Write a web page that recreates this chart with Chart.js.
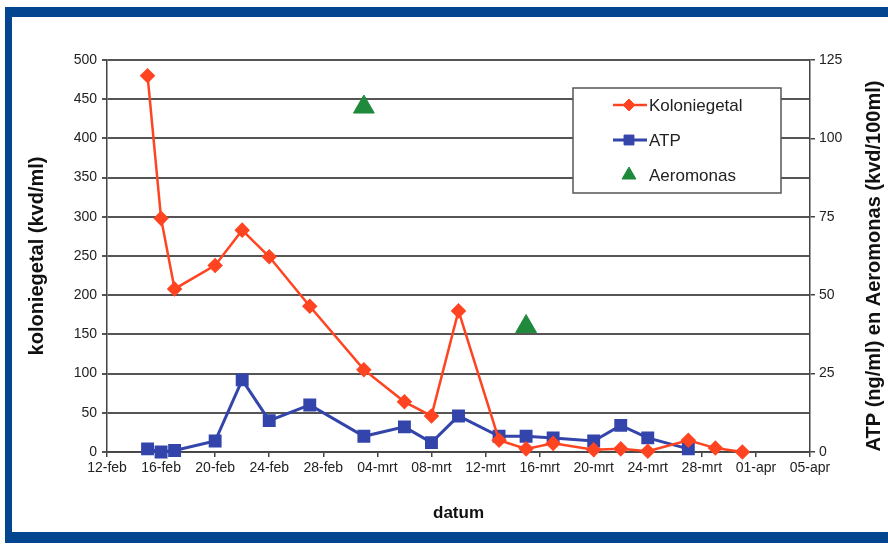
<!DOCTYPE html>
<html>
<head>
<meta charset="utf-8">
<script src="https://cdn.jsdelivr.net/npm/chart.js@4/dist/chart.umd.min.js"></script>
<style>
  html, body { margin: 0; padding: 0; background: #fff; }
  #wrap { width: 888px; height: 544px; position: relative; }
</style>
</head>
<body>
<div id="wrap"><canvas id="c" width="888" height="544"></canvas></div>
<script>
// x-axis tick labels, every 4 days from 12-feb
const tickLabels = ['12-feb', '16-feb', '20-feb', '24-feb', '28-feb', '04-mrt', '08-mrt',
                    '12-mrt', '16-mrt', '20-mrt', '24-mrt', '28-mrt', '01-apr', '05-apr'];

// Koloniegetal (kvd/ml), left axis
const koloniegetalDatum = ['15-feb', '16-feb', '17-feb', '20-feb', '22-feb', '24-feb', '27-feb',
                           '03-mrt', '06-mrt', '08-mrt', '10-mrt', '13-mrt', '15-mrt', '17-mrt',
                           '20-mrt', '22-mrt', '24-mrt', '27-mrt', '29-mrt', '31-mrt'];
const koloniegetal = [480, 298, 208, 238, 283, 249, 186, 105, 64, 46, 180, 15, 4, 11, 3, 4, 1, 15, 5, 0];

// ATP (ng/ml), right axis
const atpDatum = ['15-feb', '16-feb', '17-feb', '20-feb', '22-feb', '24-feb', '27-feb',
                  '03-mrt', '06-mrt', '08-mrt', '10-mrt', '13-mrt', '15-mrt', '17-mrt',
                  '20-mrt', '22-mrt', '24-mrt', '27-mrt'];
const atp = [1, 0, 0.5, 3.5, 23, 10, 15, 5, 8, 3, 11.5, 5, 5, 4.5, 3.5, 8.5, 4.5, 1];

// Aeromonas (kvd/100ml), right axis
const aeromonasDatum = ['03-mrt', '15-mrt'];
const aeromonas = [110, 40];

const maanden = { feb: 1, mrt: 2, apr: 3 };
const startDag = Date.UTC(2007, 1, 12);
function dag(s) {
  const [d, m] = s.split('-');
  return (Date.UTC(2007, maanden[m], +d) - startDag) / 86400000;
}
const punten = (data, waarden) => data.map((d, i) => ({ x: dag(d), y: waarden[i] }));

const RED = '#ff4422', BLUE = '#3344aa', GREEN = '#1f8a3c';
const FONT = "'Liberation Sans', Arial, sans-serif";
Chart.defaults.font.family = FONT;
Chart.defaults.color = '#222';

// Blue frame around the figure
const frame = {
  id: 'frame',
  beforeDraw(chart) {
    const ctx = chart.ctx;
    ctx.save();
    ctx.fillStyle = '#fff';
    ctx.fillRect(0, 0, chart.width, chart.height);
    ctx.restore();
  },
  afterDraw(chart) {
    const ctx = chart.ctx;
    ctx.save();
    ctx.fillStyle = '#03468f';
    ctx.fillRect(5, 7, chart.width - 5, 10);
    ctx.fillRect(5, 7, 7, 536);
    ctx.fillRect(5, 532, chart.width - 5, 11);
    ctx.restore();
  }
};

// Right axis title, reading bottom to top
const rightTitle = {
  id: 'rightTitle',
  afterDraw(chart) {
    const ctx = chart.ctx;
    ctx.save();
    ctx.font = 'bold 20px ' + FONT;
    ctx.fillStyle = '#111';
    ctx.textAlign = 'center';
    ctx.textBaseline = 'middle';
    ctx.translate(874, 266);
    ctx.rotate(-Math.PI / 2);
    ctx.fillText('ATP (ng/ml) en Aeromonas (kvd/100ml)', 0, 0);
    ctx.restore();
  }
};

// Boxed legend inside the plot area
const legendBox = {
  id: 'legendBox',
  afterDatasetsDraw(chart) {
    const ctx = chart.ctx;
    const a = chart.chartArea;
    const bx = a.left + 466, by = a.top + 28, bw = 208, bh = 105;
    ctx.save();
    ctx.fillStyle = '#fff';
    ctx.fillRect(bx, by, bw, bh);
    ctx.strokeStyle = '#555';
    ctx.lineWidth = 1.5;
    ctx.strokeRect(bx, by, bw, bh);
    ctx.font = '17px ' + FONT;
    ctx.textBaseline = 'middle';
    ctx.textAlign = 'left';
    chart.data.datasets.forEach((ds, i) => {
      const y = by + 17 + i * 35;
      const mx = bx + 56;
      if (ds.showLine !== false) {
        ctx.strokeStyle = ds.borderColor;
        ctx.lineWidth = ds.borderWidth;
        ctx.beginPath();
        ctx.moveTo(bx + 40, y);
        ctx.lineTo(bx + 74, y);
        ctx.stroke();
      }
      ctx.fillStyle = ds.pointBackgroundColor;
      ctx.strokeStyle = ds.pointBorderColor;
      ctx.lineWidth = 1;
      Chart.helpers.drawPoint(ctx, {
        pointStyle: ds.pointStyle,
        radius: ds.legendRadius,
        rotation: 0,
        borderWidth: 1
      }, mx, y);
      ctx.fillStyle = '#222';
      ctx.fillText(ds.label, bx + 76, y + 1);
    });
    ctx.restore();
  }
};

new Chart(document.getElementById('c'), {
  type: 'line',
  data: {
    datasets: [
      {
        label: 'Koloniegetal',
        data: punten(koloniegetalDatum, koloniegetal),
        yAxisID: 'y',
        borderColor: RED, borderWidth: 2.5,
        pointStyle: 'rectRot', pointRadius: 6, legendRadius: 6,
        pointBackgroundColor: RED, pointBorderColor: RED,
        tension: 0, clip: false
      },
      {
        label: 'ATP',
        data: punten(atpDatum, atp),
        yAxisID: 'y2',
        borderColor: BLUE, borderWidth: 3,
        pointStyle: 'rect', pointRadius: 7, legendRadius: 7,
        pointBackgroundColor: BLUE, pointBorderColor: BLUE,
        tension: 0, clip: false
      },
      {
        label: 'Aeromonas',
        data: punten(aeromonasDatum, aeromonas),
        yAxisID: 'y2',
        showLine: false,
        borderColor: GREEN,
        pointStyle: 'triangle', pointRadius: 12, legendRadius: 8,
        pointBackgroundColor: GREEN, pointBorderColor: GREEN,
        clip: false
      }
    ]
  },
  options: {
    responsive: false,
    animation: false,
    devicePixelRatio: 1,
    layout: { padding: { top: 60, left: 0, right: 0, bottom: 0 } },
    plugins: { legend: { display: false }, tooltip: { enabled: false } },
    scales: {
      x: {
        type: 'linear',
        min: 0, max: 52,
        afterFit: s => { s.height = 92; },
        ticks: {
          stepSize: 4, autoSkip: false, maxRotation: 0, padding: 3,
          font: { size: 14 }, color: '#222',
          callback: v => tickLabels[Math.round(v / 4)]
        },
        grid: { drawOnChartArea: false, drawTicks: true, tickLength: 5, color: '#444', lineWidth: 1.5 },
        border: { color: '#444', width: 1.5 },
        title: {
          display: true, text: 'datum', color: '#111',
          font: { size: 17, weight: 'bold' },
          padding: { top: 0, bottom: 20 }
        }
      },
      y: {
        position: 'left',
        min: 0, max: 500,
        afterFit: s => { s.width = 107; },
        ticks: { stepSize: 50, padding: 5, font: { size: 14 }, color: '#222' },
        grid: { color: '#555', lineWidth: 2, tickLength: 5 },
        border: { color: '#444', width: 1.5 },
        title: {
          display: true, text: 'koloniegetal (kvd/ml)', color: '#111',
          font: { size: 20, weight: 'bold' },
          padding: { top: 25, bottom: 0 }
        }
      },
      y2: {
        position: 'right',
        min: 0, max: 125,
        afterFit: s => { s.width = 78; },
        ticks: { stepSize: 25, padding: 4, font: { size: 14 }, color: '#222' },
        grid: { drawOnChartArea: false, tickLength: 5, color: '#444', lineWidth: 1.5 },
        border: { color: '#444', width: 1.5 }
      }
    }
  },
  plugins: [frame, legendBox, rightTitle]
});
</script>
</body>
</html>
